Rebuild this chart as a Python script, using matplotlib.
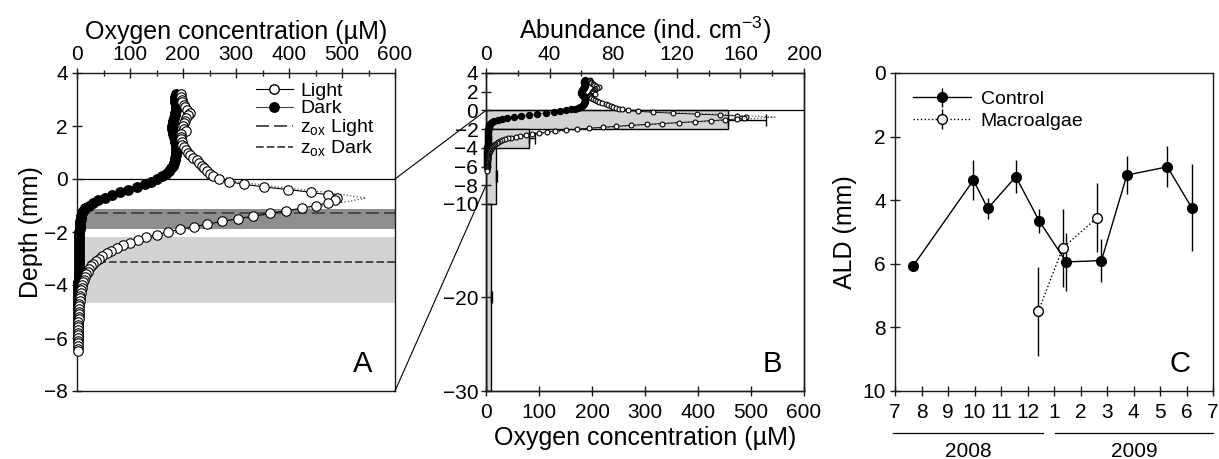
import matplotlib
matplotlib.use("Agg")
import matplotlib.pyplot as plt
import matplotlib.transforms as mtransforms
from matplotlib.patches import ConnectionPatch
from matplotlib.ticker import MultipleLocator

plt.rcParams["font.family"] = ["Liberation Sans", "DejaVu Sans"]
plt.rcParams["mathtext.default"] = "regular"

# ---- O2 microprofiles (panels A and B), depth in mm, O2 in uM
light_depth = [3.2, 3.1, 3.0, 2.9, 2.8, 2.7, 2.6, 2.5, 2.4, 2.3, 2.2, 2.1, 2.0, 1.9,
               1.8, 1.7, 1.6, 1.5, 1.4, 1.3, 1.2, 1.1, 1.0, 0.9, 0.8, 0.7, 0.6, 0.5,
               0.4, 0.3, 0.2, 0.1, 0.0, -0.1, -0.2, -0.3, -0.4, -0.5, -0.6, -0.7,
               -0.8, -0.9, -1.0, -1.1, -1.2, -1.3, -1.4, -1.5, -1.6, -1.7, -1.8, -1.9,
               -2.0, -2.1, -2.2, -2.3, -2.4, -2.5, -2.6, -2.7, -2.8, -2.9, -3.0, -3.1,
               -3.2, -3.3, -3.4, -3.5, -3.6, -3.7, -3.8, -3.9, -4.0, -4.1, -4.2, -4.3,
               -4.4, -4.5, -4.6, -4.7, -4.8, -4.9, -5.0, -5.1, -5.2, -5.3, -5.4, -5.5,
               -5.6, -5.7, -5.8, -5.9, -6.0, -6.1, -6.2, -6.3, -6.4, -6.5]
light_o2 = [196, 197, 198, 199, 201, 204, 208, 214, 209, 206, 203, 201, 200, 202,
            205, 197, 196, 197, 198, 199, 201, 205, 210, 214, 219, 226, 231, 235,
            240, 245, 250, 257, 267, 286, 315, 353, 399, 441, 474, 490,
            487, 473, 451, 424, 394, 364, 333, 303, 273, 246, 220, 194,
            172, 150, 131, 116, 100, 86, 75, 65, 56, 48, 42, 36,
            31, 27, 23, 20, 17, 15, 13, 11.5, 10, 9, 8, 7,
            6.3, 5.6, 5.0, 4.6, 4.2, 3.9, 3.6, 3.3, 3.1, 2.9, 2.7, 2.5,
            2.3, 2.1, 2.0, 1.9, 1.8, 1.7, 1.6, 1.5, 1.4, 1.3]

dark_depth = [3.2, 3.1, 3.0, 2.9, 2.8, 2.7, 2.6, 2.5, 2.4, 2.3, 2.2, 2.1, 2.0, 1.9,
              1.8, 1.7, 1.6, 1.5, 1.4, 1.3, 1.2, 1.1, 1.0, 0.9, 0.8, 0.7, 0.6, 0.5,
              0.4, 0.3, 0.2, 0.1, 0.0, -0.1, -0.2, -0.3, -0.4, -0.5, -0.6, -0.7,
              -0.8, -0.9, -1.0, -1.1, -1.2, -1.3, -1.4, -1.5, -1.6, -1.7, -1.8, -1.9,
              -2.0, -2.1, -2.2, -2.3, -2.4, -2.5, -2.6, -2.7, -2.8, -2.9, -3.0, -3.1,
              -3.2, -3.3, -3.4, -3.5, -3.6, -3.7, -3.8, -3.9, -4.0, -4.1, -4.2, -4.3,
              -4.4, -4.5, -4.6, -4.7, -4.8, -4.9, -5.0, -5.1, -5.2, -5.3, -5.4, -5.5,
              -5.6, -5.7, -5.8, -5.9, -6.0]
dark_o2 = [186, 185, 185, 185, 186, 186, 186, 185, 184, 183, 182, 181, 180, 180,
           181, 182, 183, 184, 185, 186, 186, 186, 186, 186, 185, 184, 183, 181,
           178, 174, 168, 160, 150, 140, 128, 113, 97, 81, 66, 52,
           40, 30, 22, 16, 12, 9.5, 8, 7, 6.2, 5.6, 5.2, 4.9,
           4.7, 4.6, 4.5, 4.4, 4.3, 4.2, 4.1, 4.0, 3.9, 3.8, 3.7, 3.6,
           3.5, 3.4, 3.3, 3.2, 3.1, 3.0, 2.9, 2.8, 2.7, 2.6, 2.5, 2.4,
           2.3, 2.2, 2.1, 2.0, 1.9, 1.8, 1.8, 1.7, 1.7, 1.6, 1.6, 1.5,
           1.5, 1.4, 1.4, 1.3, 1.3]

# dotted model curve next to the light profile
fit_depth = [1.3, 1.0, 0.6, 0.2, -0.1, -0.3, -0.5, -0.72, -0.95, -1.2, -1.45,
             -1.75, -2.05, -2.4, -2.75, -3.1, -3.6, -4.2, -5.0]
fit_o2 = [205, 215, 235, 262, 300, 380, 470, 545, 485, 405, 325,
          245, 175, 115, 72, 42, 21, 9, 3]

zox_light = -1.30
zox_dark = -3.13
band_dark = (-1.13, -1.89)
band_light = (-2.18, -4.68)

# ---- panel B: abundance per depth layer
layer_top = [0, -2, -4, -10]
layer_bottom = [-2, -4, -10, -30]
abundance = [152.4, 27.3, 6.3, 3.1]
abundance_se = [23.5, 3.5, 0.8, 0.9]

# ---- panel C: ALD through the year (month 13 = Jan 2009)
ctrl_month = [7.69, 9.96, 10.5, 11.56, 12.44, 13.46, 14.79, 15.75, 17.28, 18.19]
ctrl_ald = [6.06, 3.37, 4.26, 3.26, 4.65, 5.94, 5.90, 3.21, 2.95, 4.23]
ctrl_se = [0.15, 0.63, 0.33, 0.52, 0.37, 0.92, 0.67, 0.60, 0.65, 1.37]
algae_month = [12.41, 13.33, 14.63]
algae_ald = [7.49, 5.50, 4.55]
algae_se = [1.40, 1.22, 1.09]
month_ticks = [7, 8, 9, 10, 11, 12, 13, 14, 15, 16, 17, 18, 19]
month_labels = ["7", "8", "9", "10", "11", "12", "1", "2", "3", "4", "5", "6", "7"]
year_spans = [(6.93, 12.58), (13.03, 19.0)]
year_labels = ["2008", "2009"]

INK = "#1a1a1a"
DARKBAND = "#8e8e91"
LIGHTBAND = "#d1d3d4"
FS_TICK = 15
FS_LEG = 14
FS_LABEL = 18
FS_PANEL = 21


def style(ax):
    for s in ax.spines.values():
        s.set_linewidth(1.0)
        s.set_color(INK)
    ax.tick_params(which="major", direction="inout", length=7, width=1.0,
                   labelsize=FS_TICK, color=INK, pad=3)
    ax.tick_params(which="minor", direction="inout", length=4, width=1.0, color=INK)


def profiles(ax, ms, ms_dark, lw):
    ax.plot(fit_o2, fit_depth, ls=":", color="#555555", lw=0.9, zorder=3)
    ax.plot(dark_o2, dark_depth, "-o", color="#444444", lw=lw, ms=ms_dark,
            mfc="black", mec="black", zorder=4, clip_on=False)
    ax.plot(light_o2, light_depth, "-o", color="black", lw=lw, ms=ms,
            mfc="white", mec="black", mew=0.8, zorder=5, clip_on=False)


fig = plt.figure(figsize=(12.19, 4.59), dpi=100)
W, H = 1219, 459
bot, hgt = 1 - 391 / H, 318 / H
ax_a = fig.add_axes([77 / W, bot, 318 / W, hgt])
ax_b = fig.add_axes([486 / W, bot, 318 / W, hgt])
ax_c = fig.add_axes([895 / W, bot, 318 / W, hgt])

# ---------------- A
ax_a.axhspan(*band_dark, color=DARKBAND, lw=0, zorder=0)
ax_a.axhspan(*band_light, color=LIGHTBAND, lw=0, zorder=0)
ax_a.axhline(0, color="black", lw=0.9, zorder=1)
ax_a.axhline(zox_light, color="#444444", lw=1.3, dashes=(7.2, 2.8), zorder=2)
ax_a.axhline(zox_dark, color="#222222", lw=1.1, dashes=(5.0, 2.0), zorder=2)
profiles(ax_a, ms=6.8, ms_dark=6.8, lw=0.8)
ax_a.set_xlim(0, 600)
ax_a.set_ylim(-8, 4)
ax_a.xaxis.tick_top()
ax_a.xaxis.set_label_position("top")
ax_a.xaxis.set_major_locator(MultipleLocator(100))
ax_a.xaxis.set_minor_locator(MultipleLocator(50))
ax_a.yaxis.set_major_locator(MultipleLocator(2))
ax_a.set_xlabel("Oxygen concentration (µM)", fontsize=FS_LABEL, labelpad=4)
ax_a.set_ylabel("Depth (mm)", fontsize=FS_LABEL, labelpad=1)
style(ax_a)
ax_a.text(0.93, 0.04, "A", transform=ax_a.transAxes, fontsize=FS_PANEL,
          ha="right", va="bottom")

h_light, = ax_a.plot([], [], "-o", color="black", lw=0.8, ms=6.8, mfc="white", mec="black")
h_dark, = ax_a.plot([], [], "-o", color="#444444", lw=0.8, ms=6.8, mfc="black", mec="black")
h_zl, = ax_a.plot([], [], color="#444444", lw=1.3, dashes=(7.2, 2.8))
h_zd, = ax_a.plot([], [], color="#222222", lw=1.1, dashes=(5.0, 2.0))
ax_a.legend([h_light, h_dark, h_zl, h_zd],
            ["Light", "Dark", "z$_{ox}$ Light", "z$_{ox}$ Dark"],
            loc="upper right", bbox_to_anchor=(0.985, 1.02), frameon=False,
            fontsize=FS_LEG, handlelength=1.9, handletextpad=0.4,
            labelspacing=0.0, borderpad=0.3)

# ---------------- B
ax_bt = ax_b.twiny()
ax_bt.set_zorder(0)
ax_b.set_zorder(1)
ax_b.patch.set_visible(False)
for top, bottom, n, se in zip(layer_top, layer_bottom, abundance, abundance_se):
    ax_bt.barh(top, n, height=bottom - top, align="edge", color=LIGHTBAND,
               edgecolor="black", lw=1.0, zorder=1)
    ax_bt.errorbar(n, (top + bottom) / 2, xerr=[[0], [se]], color="black",
                   lw=1.0, capsize=4, capthick=1.0, zorder=2)
ax_bt.set_xlim(0, 200)
ax_bt.xaxis.set_major_locator(MultipleLocator(40))
ax_bt.xaxis.set_minor_locator(MultipleLocator(20))
ax_bt.set_xlabel("Abundance (ind. cm$^{-3}$)", fontsize=FS_LABEL, labelpad=4)
style(ax_bt)

ax_b.axhline(0, color="black", lw=0.9, zorder=1)
profiles(ax_b, ms=3.5, ms_dark=4.3, lw=0.6)
ax_b.set_xlim(0, 600)
ax_b.set_ylim(-30, 4)
ax_b.xaxis.set_major_locator(MultipleLocator(100))
ax_b.set_yticks([4, 2, 0, -2, -4, -6, -8, -10, -20, -30])
ax_b.set_xlabel("Oxygen concentration (µM)", fontsize=FS_LABEL, labelpad=3)
style(ax_b)
ax_b.tick_params(axis="y", pad=2)
ax_b.tick_params(axis="x", pad=5)
ax_b.text(0.93, 0.04, "B", transform=ax_b.transAxes, fontsize=FS_PANEL,
          ha="right", va="bottom")

# zoom connectors between A and B
for y in (0, -8):
    con = ConnectionPatch(xyA=(600, y), coordsA=ax_a.transData,
                          xyB=(0, y), coordsB=ax_b.transData,
                          color="black", lw=0.8)
    fig.add_artist(con)

# ---------------- C
ax_c.errorbar(ctrl_month, ctrl_ald, yerr=ctrl_se, fmt="-o", color="black",
              ecolor="black", elinewidth=1.0, lw=1.0, ms=7, mfc="black",
              mec="black", label="Control", zorder=3)
ax_c.errorbar(algae_month, algae_ald, yerr=algae_se, fmt=":o", color="black",
              ecolor="black", elinewidth=1.0, lw=1.0, ms=7, mfc="white",
              mec="black", label="Macroalgae", zorder=4)
ax_c.set_xlim(7, 19)
ax_c.set_ylim(10, 0)
ax_c.set_xticks(month_ticks)
ax_c.set_xticklabels(month_labels)
ax_c.yaxis.set_major_locator(MultipleLocator(2))
ax_c.set_ylabel("ALD (mm)", fontsize=FS_LABEL, labelpad=4)
style(ax_c)
ax_c.tick_params(axis="x", pad=5)
ax_c.legend(loc="upper left", frameon=False, fontsize=FS_LEG, handlelength=3.0,
            handletextpad=0.5, labelspacing=0.2, borderaxespad=0.5)
ax_c.text(0.93, 0.04, "C", transform=ax_c.transAxes, fontsize=FS_PANEL,
          ha="right", va="bottom")

trans = mtransforms.blended_transform_factory(ax_c.transData, ax_c.transAxes)
for (x0, x1), yr in zip(year_spans, year_labels):
    ax_c.plot([x0, x1], [-0.132, -0.132], color="black", lw=0.9,
              transform=trans, clip_on=False)
    ax_c.text((x0 + x1) / 2, -0.19, yr, transform=trans, ha="center",
              va="center", fontsize=FS_TICK)

fig.savefig("out.png", dpi=100)
